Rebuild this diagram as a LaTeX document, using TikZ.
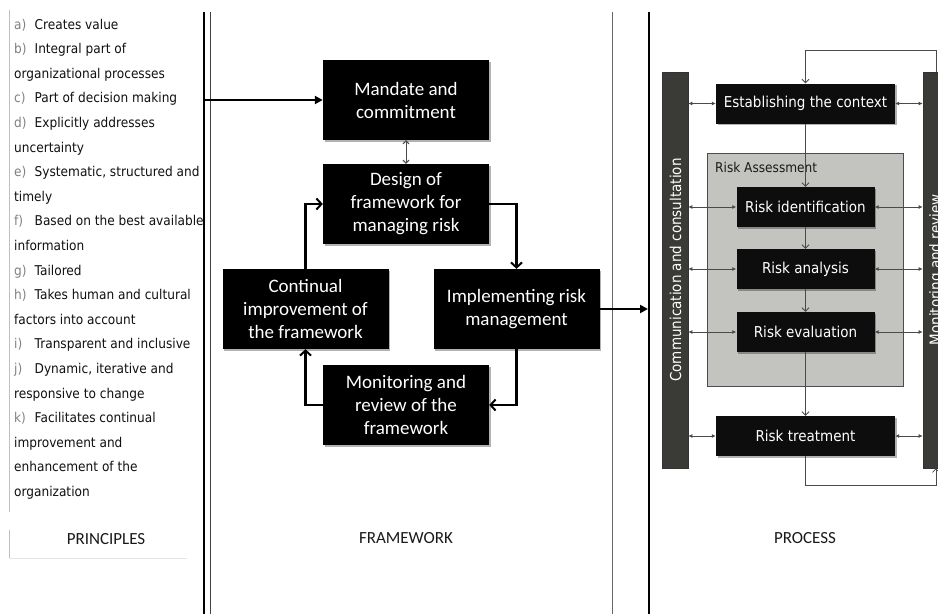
\documentclass[tikz,border=0pt]{standalone}
\usepackage{fontspec}
\setmainfont{Carlito}
\newfontfamily\verd[FakeStretch=0.9]{DejaVu Sans}
\usetikzlibrary{arrows.meta,shadows}

\definecolor{listgrey}{HTML}{808080}
\definecolor{listink}{HTML}{101010}
\definecolor{barfill}{HTML}{3A3B36}
\definecolor{assessfill}{HTML}{C3C4BF}
\definecolor{thinline}{HTML}{4A4A4A}

\newcommand\itm[2]{\makebox[20.5pt][l]{\color{listgrey}#1}#2}

\tikzset{
  listtext/.style={font=\verd\fontsize{13.5}{16}\selectfont, text=listink, inner sep=0pt, anchor=base west},
  fwbox/.style={fill=black, text=white, align=center, inner sep=2pt,
    font=\fontsize{19}{23}\selectfont, minimum width=166, minimum height=80,
    drop shadow={shadow xshift=1.6pt, shadow yshift=-1.6pt, opacity=0.3, fill=black}},
  pbox/.style={fill=black!95, text=white, inner sep=2pt,
    font=\verd\fontsize{15}{18}\selectfont, minimum height=40,
    drop shadow={shadow xshift=1.6pt, shadow yshift=-1.6pt, opacity=0.3, fill=black}},
  sidebar/.style={fill=barfill, draw=black!80, line width=0.6pt, minimum width=26, minimum height=396, inner sep=0pt},
  bartext/.style={rotate=90, text=white, font=\verd\fontsize{15}{18}\selectfont, inner sep=0pt},
  heading/.style={font=\fontsize{17}{20}\selectfont, text=black!90},
  fwflow/.style={line width=2.2pt, -{Straight Barb[length=5pt,width=11pt,line width=2pt]}},
  fwfeed/.style={line width=2pt, -{Triangle[length=8pt,width=8pt]}},
  fwboth/.style={draw=thinline, line width=1pt, {Straight Barb[length=3pt,width=6pt]}-{Straight Barb[length=3pt,width=6pt]}},
  pflow/.style={draw=thinline, line width=0.8pt, -{Straight Barb[length=3.5pt,width=7pt]}},
  pboth/.style={draw=thinline, line width=0.8pt, {Latex[length=4pt,width=4pt]}-{Latex[length=4pt,width=4pt]}},
}

\begin{document}
\begin{tikzpicture}[x=1pt,y=-1pt]
\useasboundingbox (0,0) rectangle (938,614);
\clip (0,0) rectangle (938,614);

% ---------------- principles column ----------------
\draw[black!25, line width=0.8pt] (9,10) -- (9,512);
\draw[black!25, line width=0.8pt] (9,530) -- (9,558);
\draw[black!10, line width=0.8pt] (9,558) -- (187,558);

\foreach \txt [count=\i] in {
  \itm{a)}{Creates value},
  \itm{b)}{Integral part of},
  organizational processes,
  \itm{c)}{Part of decision making},
  \itm{d)}{Explicitly addresses},
  uncertainty,
  \itm{e)}{Systematic, structured and},
  timely,
  \itm{f)}{Based on the best available},
  information,
  \itm{g)}{Tailored},
  \itm{h)}{Takes human and cultural},
  factors into account,
  \itm{i)}{Transparent and inclusive},
  \itm{j)}{Dynamic, iterative and},
  responsive to change,
  \itm{k)}{Facilitates continual},
  improvement and,
  enhancement of the,
  organization}
  \node[listtext] (pr\i) at (14,{29+(\i-1)*24.6}) {\txt};

\node[heading] (principles) at (106,539) {PRINCIPLES};

% ---------------- column separators ----------------
\draw[black, line width=2.6pt] (204,12) -- (204,614);
\draw[black!75, line width=1pt] (210,12) -- (210,614);
\draw[black!60, line width=1pt] (612,12) -- (612,614);
\draw[black, line width=2.6pt] (649,12) -- (649,614);

\coordinate (prEdge) at (205,100);
\coordinate (procEdge) at (648,309);

% ---------------- framework column ----------------
\node[fwbox] (mandate) at (406,100) {Mandate and\\commitment};
\node[fwbox] (design)  at (406,204) {Design of\\framework for\\managing risk};
\node[fwbox] (impl)    at (516.5,309) {Implementing risk\\management};
\node[fwbox] (monit)   at (406,405) {Monitoring and\\review of the\\framework};
\node[fwbox] (cont)    at (305.5,309) {Continual\\improvement of\\the framework};

\node[heading] (framework) at (406,538) {FRAMEWORK};

\draw[fwfeed] (prEdge) -- (mandate.west);
\draw[fwboth] (mandate.south) -- (design.north);
\draw[fwflow] (design.east) -| (impl.north);
\draw[fwflow] (impl.south) |- (monit.east);
\draw[fwflow] (monit.west) -| (cont.south);
\draw[fwflow] (cont.north) |- (design.west);
\draw[fwfeed] (impl.east) -- (procEdge);

% ---------------- process column ----------------
\node[sidebar] (lbar) at (675,270) {};
\node[sidebar] (rbar) at (936,270) {};
\node[bartext] (comm) at (675.5,270) {Communication and consultation};
\node[bartext] (mon)  at (936.5,270) {Monitoring and review};

\draw[fill=assessfill, draw=black!70, line width=0.8pt] (707,153) rectangle (903,386);
\node[font=\verd\fontsize{13.5}{16}\selectfont, anchor=base west, inner sep=0pt, text=black!90] (ra) at (715,172) {Risk Assessment};

\node[pbox, minimum width=179] (est)   at (805.5,103.5) {Establishing the context};
\node[pbox, minimum width=138] (ident) at (805.5,207) {Risk identification};
\node[pbox, minimum width=138] (anal)  at (805.5,269) {Risk analysis};
\node[pbox, minimum width=138] (eval)  at (805.5,332) {Risk evaluation};
\node[pbox, minimum width=179] (treat) at (805.5,436) {Risk treatment};

\draw[pflow] (est.south) -- (ident.north);
\draw[pflow] (ident.south) -- (anal.north);
\draw[pflow] (anal.south) -- (eval.north);
\draw[pflow] (eval.south) -- (treat.north);

\foreach \b in {est,ident,anal,eval,treat}{
  \draw[pboth] (lbar.east |- \b.west) -- (\b.west);
  \draw[pboth] (\b.east) -- (rbar.west |- \b.east);
}

\coordinate (fbTop) at (936,50);
\coordinate (fbBot) at (936,485);
\draw[pflow] (rbar.north) -- (fbTop) -| (est.north);
\draw[pflow] (treat.south) |- (fbBot) -- (rbar.south);

\node[heading] (process) at (805,538) {PROCESS};
\end{tikzpicture}
\end{document}
